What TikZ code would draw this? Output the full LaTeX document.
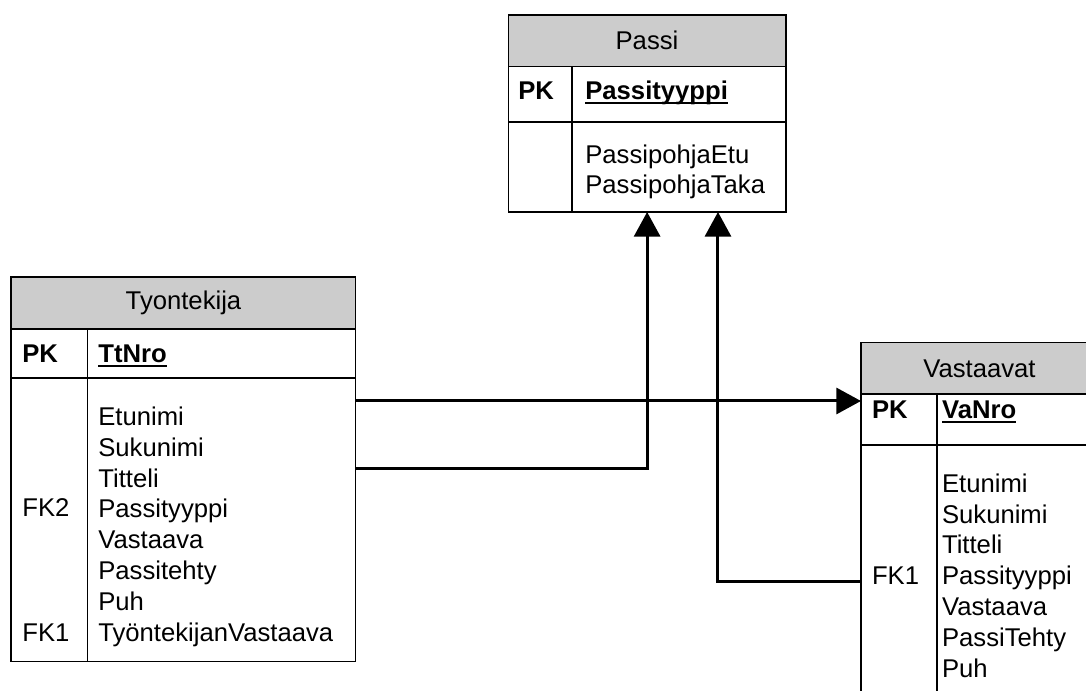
\documentclass[tikz,border=0pt]{standalone}
\usepackage{fontspec}
\setmainfont{Liberation Sans}
\usetikzlibrary{arrows.meta,fit}

\newcommand{\keyname}[1]{\setbox0\hbox{#1}\rlap{\rule[-2.1pt]{\wd0}{1.1pt}}\box0}

\begin{document}
\begin{tikzpicture}[scale=0.2,
  tbl/.style={draw=black, line width=0.7pt, inner sep=0pt, outer sep=0pt},
  hdr/.style={fill=black!20},
  row/.style={draw=black, line width=0.7pt},
  txt/.style={font=\fontsize{14.6}{17.5}\selectfont, anchor=base west, align=left},
  ttl/.style={font=\fontsize{14.6}{17.5}\selectfont, anchor=base},
  link/.style={line width=1.7pt, -{Triangle[length=14pt,width=14.8pt]}}]
\tikzstyle{every node}+=[inner sep=0pt]
\useasboundingbox (0,0) rectangle (108.6,-69.1);
\clip (0,0) rectangle (108.6,-69.1);
% Passi
\fill [hdr] (50.83,-1.5) rectangle (78.6,-6.67);
\node [tbl, fit={(50.83,-1.5) (78.6,-21.2)}] (passi) {};
\draw [row] (passi.west |- 0,-6.67) -- (passi.east |- 0,-6.67);
\draw [row] (passi.west |- 0,-12.2) -- (passi.east |- 0,-12.2);
\draw [row] (57.2,-6.67) -- (passi.south -| 57.2,0);
\node [ttl] (passiT) at (64.7,-5.0) {Passi};
\node [txt] (passiPK) at (51.8,-10.0) {\bfseries PK};
\node [txt] (passiK) at (58.5,-10.0) {\bfseries\keyname{Passityyppi}};
% multi-line nodes sit on their last baseline
\node [txt] (passiA) at (58.5,-19.4) {PassipohjaEtu\\PassipohjaTaka};
% Tyontekija
\fill [hdr] (1.1,-27.7) rectangle (35.57,-32.9);
\node [tbl, fit={(1.1,-27.7) (35.57,-66.17)}] (tyo) {};
\draw [row] (tyo.west |- 0,-32.9) -- (tyo.east |- 0,-32.9);
\draw [row] (tyo.west |- 0,-37.8) -- (tyo.east |- 0,-37.8);
\draw [row] (8.77,-32.9) -- (tyo.south -| 8.77,0);
\node [ttl] (tyoT) at (18.35,-31.0) {Tyontekija};
\node [txt] (tyoPK) at (2.2,-36.3) {\bfseries PK};
\node [txt] (tyoK) at (9.8,-36.3) {\bfseries\keyname{TtNro}};
\node [txt] (tyoA) at (9.8,-64.1) {Etunimi\\Sukunimi\\Titteli\\Passityyppi\\Vastaava\\Passitehty\\Puh\\TyöntekijanVastaava};
\node [txt] (tyoFK2) at (2.2,-51.7) {FK2};
\node [txt] (tyoFK1) at (2.2,-64.1) {FK1};
% Vastaavat
\fill [hdr] (86.1,-34.27) rectangle (109.8,-39.4);
\node [tbl, fit={(86.1,-34.27) (109.8,-72)}] (vast) {};
\draw [row] (vast.west |- 0,-39.4) -- (vast.east |- 0,-39.4);
\draw [row] (vast.west |- 0,-44.5) -- (vast.east |- 0,-44.5);
\draw [row] (93.7,-39.4) -- (vast.south -| 93.7,0);
\node [ttl] (vastT) at (97.95,-37.8) {Vastaavat};
\node [txt] (vastPK) at (87.17,-41.9) {\bfseries PK};
\node [txt] (vastK) at (94.17,-41.9) {\bfseries\keyname{VaNro}};
\node [txt] (vastA) at (94.17,-67.7) {Etunimi\\Sukunimi\\Titteli\\Passityyppi\\Vastaava\\PassiTehty\\Puh};
\node [txt] (vastFK1) at (87.17,-58.4) {FK1};
% connectors
\coordinate (tyoOut1) at (tyo.east |- 0,-40.1);
\coordinate (tyoOut2) at (tyo.east |- 0,-46.85);
\coordinate (vastOut) at (vast.west |- 0,-58.2);
\coordinate (passiIn) at (passi.south -| 71.8,0);
\draw [link] (tyoOut1) -- (vast.west |- tyoOut1);
\draw [link] (tyoOut2) -| (passi.south);
\draw [link] (vastOut) -| (passiIn);
\end{tikzpicture}
\end{document}
